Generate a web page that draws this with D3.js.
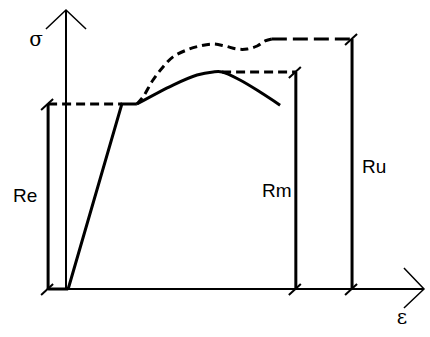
<!DOCTYPE html>
<html>
<head>
<meta charset="utf-8">
<style>
  body { margin: 0; background: #fff; }
  text { font-family: "Liberation Sans", Arial, sans-serif; fill: #000; }
</style>
<script src="https://d3js.org/d3.v7.min.js"></script>
</head>
<body>
<script>
// strain (eps) / stress (sigma) values, arbitrary units
let elastic = [[0.6, 0], [15.6, 66.3], [19.8, 66.3]];
let curveSolid = [[19.8, 66.3], [29.9, 73.1], [36.6, 76.7], [41.1, 77.8], [43.6, 77.8],
                  [48.6, 74.9], [54.2, 70.6], [59.8, 65.9]];
let curveDashed = [[19.8, 66.3], [21.5, 68.8], [24.3, 74.9], [27.1, 79.6], [29.9, 83.2],
                   [33.8, 85.7], [37.4, 87.1], [41.1, 87.8], [44.4, 87.1], [47.8, 86.0],
                   [50.6, 86.0], [53.4, 87.1], [55.6, 88.9], [57.5, 89.6]];
let levels = [
  { name: "Re", eps: -5.0, sigma: 66.3, from: -5.0 },
  { name: "Rm", eps: 64.2, sigma: 77.8, from: 43.6 },
  { name: "Ru", eps: 79.9, sigma: 89.6, from: 57.5 }
];

let width = 430, height = 337;

let x = d3.scaleLinear().domain([0, 100]).range([66, 424]);
let y = d3.scaleLinear().domain([0, 100]).range([289, 10]);

let svg = d3.select("body").append("svg")
    .attr("width", width)
    .attr("height", height);

let line = d3.line().x(d => x(d[0])).y(d => y(d[1]));
let smooth = d3.line().x(d => x(d[0])).y(d => y(d[1])).curve(d3.curveCatmullRom);

// axes
svg.append("line")
    .attr("x1", x(-5)).attr("y1", y(0)).attr("x2", x(100)).attr("y2", y(0))
    .attr("stroke", "#000").attr("stroke-width", 2);
svg.append("line")
    .attr("x1", x(0)).attr("y1", y(0)).attr("x2", x(0)).attr("y2", y(100))
    .attr("stroke", "#000").attr("stroke-width", 2);
svg.append("path")
    .attr("d", line([[-5.6, 93.2], [0, 100], [5.6, 93.2]]))
    .attr("fill", "none").attr("stroke", "#000").attr("stroke-width", 1.5);
svg.append("path")
    .attr("d", line([[94.4, 7.5], [100, 0], [94.4, -6.8]]))
    .attr("fill", "none").attr("stroke", "#000").attr("stroke-width", 1.5);

// thick base piece between Re and the curve start
svg.append("line")
    .attr("x1", x(-5)).attr("y1", y(0)).attr("x2", x(0.6)).attr("y2", y(0))
    .attr("stroke", "#000").attr("stroke-width", 3);

// dashed level lines
levels.forEach(l => {
    let x1 = l.name === "Re" ? x(l.eps) : x(l.from);
    let x2 = l.name === "Re" ? x(15.6) : x(l.eps);
    svg.append("line")
        .attr("x1", x1).attr("y1", y(l.sigma)).attr("x2", x2).attr("y2", y(l.sigma))
        .attr("stroke", "#000").attr("stroke-width", 3)
        .attr("stroke-dasharray", l.name === "Ru" ? "15,6" : "9,5");
    svg.append("line")
        .attr("x1", x(l.eps)).attr("y1", y(0)).attr("x2", x(l.eps)).attr("y2", y(l.sigma))
        .attr("stroke", "#000").attr("stroke-width", 3);
    [0, l.sigma].forEach(s => {
        svg.append("line")
            .attr("x1", x(l.eps) - 7).attr("y1", y(s) + 6)
            .attr("x2", x(l.eps) + 5).attr("y2", y(s) - 5)
            .attr("stroke", "#000").attr("stroke-width", 2);
    });
});

// curves
svg.append("path").attr("d", line(elastic))
    .attr("fill", "none").attr("stroke", "#000").attr("stroke-width", 3);
svg.append("path").attr("d", smooth(curveSolid))
    .attr("fill", "none").attr("stroke", "#000").attr("stroke-width", 3);
svg.append("path").attr("d", smooth(curveDashed))
    .attr("fill", "none").attr("stroke", "#000").attr("stroke-width", 3)
    .attr("stroke-dasharray", "8,5");

// labels
svg.append("text").attr("x", 13).attr("y", 202).style("font-size", "19px").text("Re");
svg.append("text").attr("x", 262).attr("y", 197).style("font-size", "19px").text("Rm");
svg.append("text").attr("x", 362).attr("y", 173).style("font-size", "19px").text("Ru");
svg.append("text").attr("x", 36).attr("y", 46).attr("text-anchor", "middle")
    .style("font-family", "'DejaVu Serif', serif").style("font-size", "20px").text("σ");
svg.append("text").attr("x", 402).attr("y", 324).attr("text-anchor", "middle")
    .style("font-family", "'DejaVu Serif', serif").style("font-size", "20px").text("ε");
</script>
</body>
</html>
